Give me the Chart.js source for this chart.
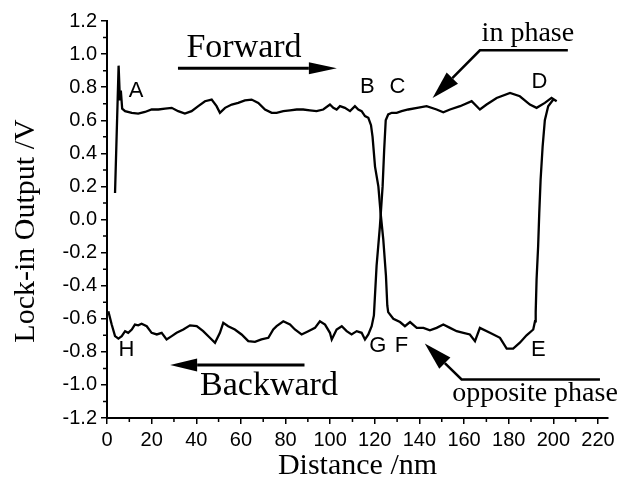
<!DOCTYPE html>
<html>
<head>
<meta charset="utf-8">
<script src="https://cdn.jsdelivr.net/npm/chart.js@4/dist/chart.umd.min.js"></script>
<style>
  html, body { margin: 0; padding: 0; background: #fff; }
  #wrap { width: 630px; height: 484px; }
</style>
</head>
<body>
<div id="wrap"><canvas id="chart" width="630" height="484"></canvas></div>
<script>
// forward trace: A -> B, down through the crossing, F -> E, up to D
const forwardX = [3.6, 5.2, 5.8, 6.2, 6.8, 8.1, 11.1, 14.0, 17.0, 20.0, 23.0, 26.0, 29.0, 31.9, 34.9,
  37.9, 40.9, 43.9, 46.9, 49.1, 50.6, 52.9, 55.9, 58.8, 61.8, 64.8, 67.8, 70.8, 73.8,
  76.0, 79.0, 82.0, 85.0, 87.9, 90.9, 93.9, 96.9, 99.9, 101.4, 102.9, 104.4, 106.6, 108.9,
  111.1, 112.6, 114.1, 115.6, 117.1, 118.3, 119.0, 120.1, 121.6, 122.6, 123.8, 125.0, 125.6,
  126.0, 128.3, 131.3, 133.5, 135.8, 138.8, 141.8, 144.7, 147.7, 150.7, 153.7, 156.7, 159.7,
  162.6, 164.9, 167.1, 171.6, 176.1, 179.1, 182.0, 185.0, 188.0, 191.0, 191.8, 192.1, 192.5,
  193.2, 193.7, 194.3, 195.2, 196.2, 197.7, 200.0];
const forwardY = [0.16, 0.93, 0.72, 0.78, 0.67, 0.655, 0.645, 0.64, 0.65, 0.665, 0.665, 0.67, 0.675, 0.655, 0.64,
  0.655, 0.685, 0.715, 0.725, 0.685, 0.645, 0.675, 0.695, 0.705, 0.72, 0.725, 0.705, 0.665, 0.645,
  0.645, 0.655, 0.66, 0.665, 0.665, 0.66, 0.655, 0.665, 0.695, 0.675, 0.665, 0.685, 0.675, 0.655,
  0.685, 0.665, 0.655, 0.625, 0.615, 0.57, 0.5, 0.32, 0.2, 0.04, -0.12, -0.34, -0.52,
  -0.56, -0.6, -0.62, -0.645, -0.62, -0.655, -0.655, -0.67, -0.655, -0.635, -0.655, -0.675, -0.685,
  -0.695, -0.735, -0.655, -0.685, -0.715, -0.78, -0.78, -0.745, -0.7, -0.665, -0.615, -0.56, -0.36,
  -0.16, 0.04, 0.24, 0.44, 0.6, 0.685, 0.725];

// backward trace: H -> G, up through the crossing, C -> D
const backwardX = [0.6, 2.1, 3.6, 5.1, 6.6, 8.1, 9.5, 11.1, 12.5, 14.0, 15.5, 17.8, 20.0, 22.3, 24.5,
  26.7, 29.0, 31.2, 34.2, 37.2, 40.2, 43.1, 46.1, 48.4, 50.6, 52.1, 54.3, 57.3, 60.3, 63.3,
  66.3, 69.2, 72.3, 74.5, 76.0, 79.0, 82.0, 84.2, 87.2, 90.2, 93.2, 95.4, 97.7, 99.9, 100.7,
  102.9, 105.2, 107.4, 109.6, 111.9, 114.1, 115.6, 117.1, 118.6, 119.6, 120.8, 122.3, 123.5,
  124.2, 124.9, 126.0, 127.6, 129.8, 132.0, 135.0, 139.0, 143.2, 147.7, 150.7, 153.7, 158.2,
  163.4, 167.1, 170.1, 174.6, 180.6, 185.0, 189.5, 192.5, 196.2, 199.2, 201.5];
const backwardY = [-0.555, -0.635, -0.705, -0.72, -0.705, -0.675, -0.685, -0.665, -0.635, -0.64, -0.63, -0.645, -0.685, -0.695, -0.685,
  -0.725, -0.705, -0.685, -0.665, -0.64, -0.645, -0.675, -0.715, -0.745, -0.685, -0.625, -0.645, -0.665, -0.695, -0.735,
  -0.74, -0.725, -0.715, -0.665, -0.645, -0.615, -0.635, -0.665, -0.695, -0.675, -0.655, -0.615, -0.635, -0.685, -0.725,
  -0.665, -0.645, -0.675, -0.695, -0.675, -0.685, -0.725, -0.695, -0.645, -0.58, -0.28, -0.04, 0.2,
  0.42, 0.6, 0.635, 0.645, 0.645, 0.655, 0.665, 0.675, 0.685, 0.665, 0.648, 0.665, 0.685,
  0.715, 0.665, 0.695, 0.735, 0.765, 0.745, 0.695, 0.675, 0.705, 0.735, 0.715];

const xTicks = [0, 20, 40, 60, 80, 100, 120, 140, 160, 180, 200, 220];
const yTicks = [-1.2, -1.0, -0.8, -0.6, -0.4, -0.2, 0.0, 0.2, 0.4, 0.6, 0.8, 1.0, 1.2];
const pointLabels = ['A', 'B', 'C', 'D', 'E', 'F', 'G', 'H'];

const toPts = (xs, ys) => xs.map((x, i) => ({ x: x, y: ys[i] }));

// where the annotations sit, in data units
const labelAt = {
  A: [13.0, 0.775], B: [116.7, 0.80], C: [130.2, 0.80], D: [193.8, 0.83],
  E: [193.3, -0.79], F: [131.9, -0.765], G: [121.4, -0.765], H: [8.7, -0.79]
};

const serif = '"Liberation Serif", "Times New Roman", serif';
const sans = '"Liberation Sans", Arial, sans-serif';

function arrowHead(ctx, fx, fy, tx, ty, len, half) {
  const a = Math.atan2(ty - fy, tx - fx);
  const bx = tx - len * Math.cos(a), by = ty - len * Math.sin(a);
  ctx.beginPath();
  ctx.moveTo(tx, ty);
  ctx.lineTo(bx + half * Math.sin(a), by - half * Math.cos(a));
  ctx.lineTo(bx - half * Math.sin(a), by + half * Math.cos(a));
  ctx.closePath();
  ctx.fill();
  return [bx, by];
}

const annotations = {
  id: 'annotations',
  afterDatasetsDraw(chart) {
    const { ctx, scales: { x, y } } = chart;
    const px = v => x.getPixelForValue(v);
    const py = v => y.getPixelForValue(v);
    ctx.save();
    ctx.fillStyle = '#000';
    ctx.strokeStyle = '#000';

    // minor ticks
    ctx.lineWidth = 1.5;
    ctx.beginPath();
    for (let v = 10; v <= 220; v += 20) {
      ctx.moveTo(px(v), y.bottom);
      ctx.lineTo(px(v), y.bottom + 4);
    }
    for (let v = -1.1; v < 1.2; v += 0.2) {
      ctx.moveTo(x.left, py(v));
      ctx.lineTo(x.left - 4, py(v));
    }
    ctx.stroke();

    // y axis title (drawn by hand, it sits a bit below the axis middle)
    ctx.save();
    ctx.translate(26, 231);
    ctx.rotate(-Math.PI / 2);
    ctx.font = '30px ' + serif;
    ctx.textAlign = 'center';
    ctx.textBaseline = 'middle';
    ctx.fillText('Lock-in Output /V', 0, 0);
    ctx.restore();

    // point letters
    ctx.font = '22px ' + sans;
    ctx.textAlign = 'center';
    ctx.textBaseline = 'middle';
    pointLabels.forEach(k => {
      ctx.fillText(k, px(labelAt[k][0]), py(labelAt[k][1]));
    });

    // Forward / Backward
    ctx.font = '34px ' + serif;
    ctx.textBaseline = 'alphabetic';
    ctx.fillText('Forward', px(61.4), py(0.98));
    ctx.fillText('Backward', px(72.6), py(-1.06));

    ctx.lineWidth = 3;
    let b = arrowHead(ctx, px(31.8), py(0.915), px(103.0), py(0.915), 28, 6);
    ctx.beginPath();
    ctx.moveTo(px(31.8), py(0.915));
    ctx.lineTo(b[0], b[1]);
    ctx.stroke();

    b = arrowHead(ctx, px(88.5), py(-0.88), px(28.3), py(-0.88), 27, 6.5);
    ctx.beginPath();
    ctx.moveTo(px(88.5), py(-0.88));
    ctx.lineTo(b[0], b[1]);
    ctx.stroke();

    // in phase / opposite phase
    ctx.font = '28px ' + serif;
    ctx.fillText('in phase', px(188.6), py(1.08));
    ctx.fillText('opposite phase', px(191.8), py(-1.10));

    ctx.lineWidth = 2.5;
    b = arrowHead(ctx, px(167.1), py(1.023), px(145.9), py(0.735), 28, 8);
    ctx.beginPath();
    ctx.moveTo(px(206.5), py(1.023));
    ctx.lineTo(px(167.1), py(1.023));
    ctx.lineTo(b[0], b[1]);
    ctx.stroke();

    b = arrowHead(ctx, px(158.9), py(-0.967), px(142.4), py(-0.75), 28, 8);
    ctx.beginPath();
    ctx.moveTo(px(220.9), py(-0.967));
    ctx.lineTo(px(158.9), py(-0.967));
    ctx.lineTo(b[0], b[1]);
    ctx.stroke();

    ctx.restore();
  }
};

const lineStyle = { borderColor: '#000', borderWidth: 2.3, pointRadius: 0, showLine: true, fill: false, tension: 0 };

new Chart(document.getElementById('chart'), {
  type: 'scatter',
  data: {
    datasets: [
      Object.assign({ label: 'forward', data: toPts(forwardX, forwardY) }, lineStyle),
      Object.assign({ label: 'backward', data: toPts(backwardX, backwardY) }, lineStyle)
    ]
  },
  options: {
    responsive: false,
    animation: false,
    layout: { padding: { top: 21, right: 22, left: 0, bottom: 0 } },
    plugins: { legend: { display: false }, tooltip: { enabled: false } },
    scales: {
      x: {
        type: 'linear',
        min: 0,
        max: 224.5,
        afterFit: s => { s.height = 66; },
        afterBuildTicks: s => { s.ticks = xTicks.map(v => ({ value: v })); },
        border: { display: true, color: '#000', width: 2 },
        grid: { drawOnChartArea: false, drawTicks: true, tickLength: 6, color: '#000', lineWidth: 1.5 },
        ticks: { color: '#000', padding: 4, maxRotation: 0, font: { family: sans, size: 20 },
                 callback: v => String(v) },
        title: { display: true, text: 'Distance /nm', color: '#000', padding: { top: 0, bottom: 0 },
                 font: { family: serif, size: 30 } }
      },
      y: {
        type: 'linear',
        min: -1.2,
        max: 1.2,
        afterFit: s => { s.width = 107; },
        afterBuildTicks: s => { s.ticks = yTicks.map(v => ({ value: v })); },
        border: { display: true, color: '#000', width: 2 },
        grid: { drawOnChartArea: false, drawTicks: true, tickLength: 6, color: '#000', lineWidth: 1.5 },
        ticks: { color: '#000', padding: 4, font: { family: sans, size: 20 },
                 callback: v => v.toFixed(1) },
        title: { display: false }
      }
    }
  },
  plugins: [annotations]
});
</script>
</body>
</html>
